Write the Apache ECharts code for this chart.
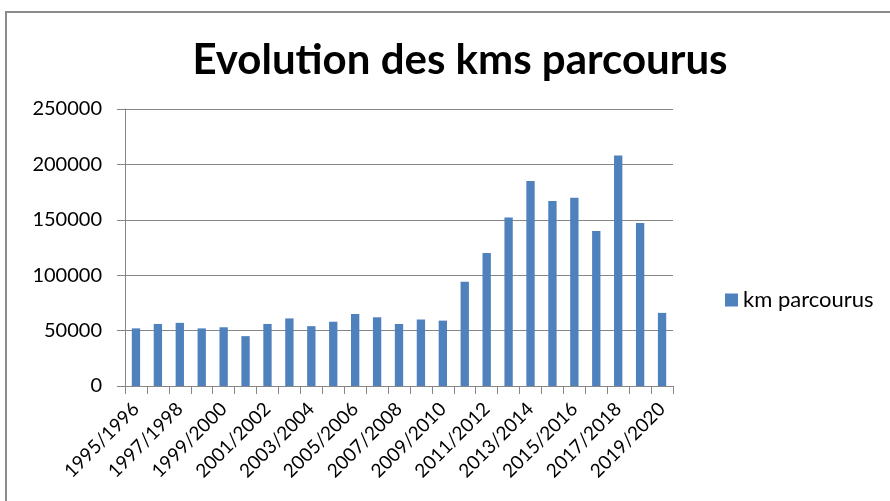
<!DOCTYPE html>
<html lang="fr">
<head>
<meta charset="UTF-8">
<title>Evolution des kms parcourus</title>
<script src="https://cdn.jsdelivr.net/npm/echarts@6/dist/echarts.min.js"></script>
<style>
    html, body, #chart {
        width: 890px;
        height: 501px;
        margin: 0;
        padding: 0;
        background: #fff;
    }
</style>
</head>
<body>
<div id="chart"></div>
<script>
    const seasons = [
        "1995/1996", "1996/1997", "1997/1998", "1998/1999", "1999/2000",
        "2000/2001", "2001/2002", "2002/2003", "2003/2004", "2004/2005",
        "2005/2006", "2006/2007", "2007/2008", "2008/2009", "2009/2010",
        "2010/2011", "2011/2012", "2012/2013", "2013/2014", "2014/2015",
        "2015/2016", "2016/2017", "2017/2018", "2018/2019", "2019/2020"
    ];
    const kmParcourus = [
        52000, 56000, 57000, 52000, 53000,
        45000, 56000, 61000, 54000, 58000,
        65000, 62000, 56000, 60000, 59000,
        94000, 120000, 152000, 185000, 167000,
        170000, 140000, 208000, 147000, 66000
    ];
    const yTicks = [0, 50000, 100000, 150000, 200000, 250000];

    var chart = echarts.init(document.getElementById("chart"));
    var font = "Lato, 'Open Sans', sans-serif";
    var option = {
        animation: false,
        title: {
            text: "Evolution des kms parcourus",
            left: 455,
            textAlign: "center",
            top: 34,
            textStyle: {
                fontFamily: font,
                fontWeight: "bold",
                fontSize: 42,
                color: "#000"
            }
        },
        legend: {
            data: ["km parcourus"],
            left: 720,
            top: 284,
            icon: "rect",
            itemWidth: 13,
            itemHeight: 13,
            itemGap: 6,
            textStyle: {
                fontFamily: font,
                fontSize: 22,
                color: "#000"
            }
        },
        grid: {
            left: 125,
            right: 217,
            top: 109,
            bottom: 115
        },
        xAxis: {
            type: "category",
            data: seasons,
            axisLine: { lineStyle: { color: "#868686" } },
            axisTick: { show: true, length: 8, interval: 0, lineStyle: { color: "#868686" } },
            axisLabel: {
                interval: 1,
                rotate: 45,
                margin: 20,
                fontFamily: font,
                fontSize: 19,
                color: "#000"
            }
        },
        yAxis: {
            type: "value",
            min: yTicks[0],
            max: yTicks[yTicks.length - 1],
            interval: yTicks[1] - yTicks[0],
            axisLine: { show: true, lineStyle: { color: "#868686" } },
            axisTick: { show: true, length: 8, lineStyle: { color: "#868686" } },
            splitLine: { lineStyle: { color: "#868686" } },
            axisLabel: {
                margin: 23,
                fontFamily: font,
                fontSize: 20,
                color: "#000",
                formatter: function (v) { return String(v); }
            }
        },
        series: [
            {
                name: "km parcourus",
                type: "bar",
                data: kmParcourus,
                barWidth: "38%",
                itemStyle: { color: "#4F81BD" }
            }
        ],
        graphic: [
            {
                type: "rect",
                shape: { x: 6, y: 12, width: 900, height: 500 },
                style: { fill: "none", stroke: "#8c8c8c", lineWidth: 2 },
                silent: true
            }
        ]
    };
    chart.setOption(option);
</script>
</body>
</html>
